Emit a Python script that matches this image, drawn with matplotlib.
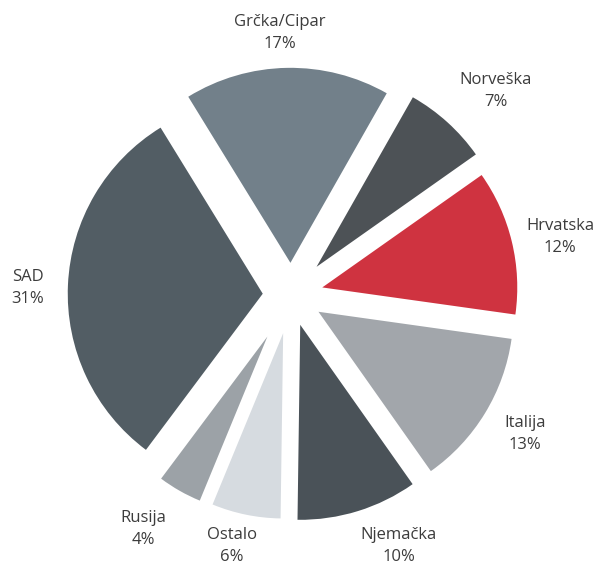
import matplotlib
matplotlib.use("Agg")
import matplotlib.pyplot as plt

# Data (clockwise from the top)
countries = ["Grčka/Cipar", "Norveška", "Hrvatska", "Italija", "Njemačka", "Ostalo", "Rusija", "SAD"]
shares = [17, 7, 12, 13, 10, 6, 4, 31]

# Styles
colors = ["#72808a", "#4d5256", "#cf3340", "#a2a6ab", "#4a5258", "#d6dbe0", "#9ca2a7", "#525d64"]
explode_frac = [0.165, 0.195, 0.165, 0.165, 0.16, 0.20, 0.245, 0.145]
radius_scale = [1.0, 1.0, 1.0, 1.0, 1.0, 0.95, 0.91, 1.0]
label_pos = [(280, 22), (496, 80), (560, 226), (525, 423), (399, 535), (232, 535), (143, 518), (28, 277)]
W, H = 600, 566
cx, cy, R = 291, 295, 195

fig = plt.figure(figsize=(W / 100, H / 100), dpi=100)
ax = fig.add_axes([0, 0, 1, 1])

wedges, texts = ax.pie(
    shares, colors=colors, explode=[e * R for e in explode_frac], startangle=121.6,
    counterclock=False, radius=R, center=(cx, H - cy), frame=True,
    labels=[f"{c}\n{s}%" for c, s in zip(countries, shares)],
    textprops=dict(fontsize=12, color="#3c3c3c", family=["Open Sans", "DejaVu Sans"],
                   ha="center", va="center", linespacing=1.45),
    wedgeprops=dict(linewidth=0),
)
for w, s in zip(wedges, radius_scale):
    w.set_radius(R * s)
ax.set_xlim(0, W)
ax.set_ylim(0, H)
ax.set_aspect("equal")
ax.axis("off")
for t, (x, y) in zip(texts, label_pos):
    t.set_position((x, H - y - 11))
    t.set_ha("center")
    t.set_va("center")

fig.savefig("out.png", dpi=100, facecolor="white")
